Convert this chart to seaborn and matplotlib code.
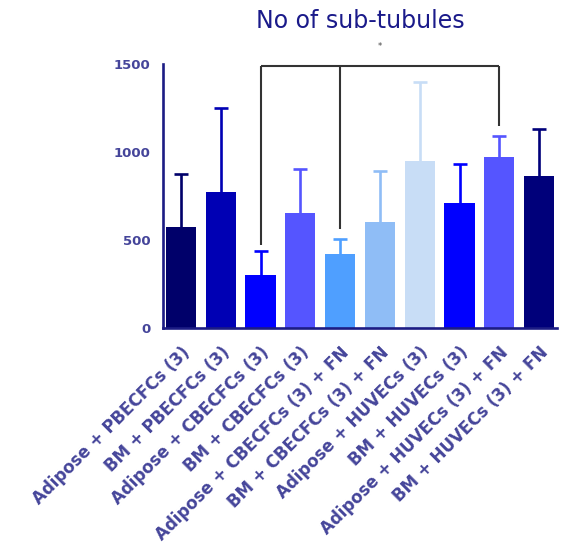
import numpy as np
import pandas as pd
import matplotlib
matplotlib.use("Agg")
import matplotlib.pyplot as plt
import seaborn as sns

# Groups, means and upper error limits (mean + SD)
groups = [
    "Adipose + PBECFCs (3)",
    "BM + PBECFCs (3)",
    "Adipose + CBECFCs (3)",
    "BM + CBECFCs (3)",
    "Adipose + CBECFCs (3) + FN",
    "BM + CBECFCs (3) + FN",
    "Adipose + HUVECs (3)",
    "BM + HUVECs (3)",
    "Adipose + HUVECs (3) + FN",
    "BM + HUVECs (3) + FN",
]
means = [576, 775, 301, 652, 419, 601, 946, 713, 974, 861]
upper = [874, 1250, 440, 903, 506, 893, 1397, 931, 1092, 1132]
colors = ["#00006a", "#0000b4", "#0000ff", "#5555ff", "#4f9fff",
          "#8fbdf6", "#c8ddf6", "#0000ff", "#5555ff", "#00007a"]

yticks = [0, 500, 1000, 1500]
ytick_labels = ["0", "500", "1000", "1500"]

# Significance bracket: spans group 3 to group 9, with a drop at group 5
bracket_groups = [2, 4, 8]
bracket_ends = [474, 560, 1150]
bracket_top = 1490
sig_label = "*"

df = pd.DataFrame({"group": groups, "mean": means, "upper": upper})

sns.set_style("white")
fig = plt.figure(figsize=(5.62, 5.47), dpi=100)
ax = fig.add_axes([0.2895, 0.4004, 0.7016, 0.4826])

navy = "#1c1c84"
label_col = "#45459a"

sns.barplot(data=df, x="group", y="mean", hue="group", palette=colors,
            legend=False, width=0.76, saturation=1, ax=ax, errorbar=None,
            linewidth=0)
for p in ax.patches:
    p.set_zorder(3)

# One-sided (upper) error bars: stem from the mean up to mean + SD, plus a cap
xs = np.arange(len(groups))
for x, m, u, c in zip(xs, means, upper, colors):
    ax.vlines(x, m, u, color=c, lw=1.9, zorder=2)
    ax.plot([x], [u], linestyle="none", marker="_", ms=9.5, mew=1.9,
            color=c, zorder=2)

ax.set_xlim(-0.46, 9.45)
ax.set_ylim(0, 1500)
ax.set_yticks(yticks)
ax.set_yticklabels(ytick_labels)
ax.set_xlabel("")
ax.set_ylabel("")

for side in ["top", "right"]:
    ax.spines[side].set_visible(False)
for side in ["left", "bottom"]:
    ax.spines[side].set_color(navy)
    ax.spines[side].set_linewidth(1.9)
    ax.spines[side].set_zorder(4)

ax.tick_params(axis="both", which="major", direction="out", length=6,
               width=1.9, color=navy)
ax.tick_params(axis="y", labelsize=9.5, labelcolor=label_col, pad=3)
ax.tick_params(axis="x", labelsize=12, labelcolor=label_col, pad=5)
for lab in ax.get_yticklabels():
    lab.set_fontweight("bold")
ax.set_xticks(xs)
ax.set_xticklabels(groups, rotation=45, ha="right", rotation_mode="anchor",
                   fontweight="bold")

# Bracket with the significance mark above it
bx = [xs[i] for i in bracket_groups]
ax.plot([bx[0], bx[-1]], [bracket_top, bracket_top], color="#333333",
        lw=1.5, clip_on=False, solid_capstyle="butt")
for x, yend in zip(bx, bracket_ends):
    ax.plot([x, x], [bracket_top, yend], color="#333333", lw=1.5,
            clip_on=False, solid_capstyle="butt")
ax.text((bx[0] + bx[-1]) / 2, 1600, sig_label, ha="center", va="center",
        fontsize=6, color="#444444", clip_on=False)

fig.text(0.642, 0.962, "No of sub-tubules", ha="center", va="center",
         fontsize=17, color="#1a1a8a")

fig.savefig("out.png", dpi=100)
